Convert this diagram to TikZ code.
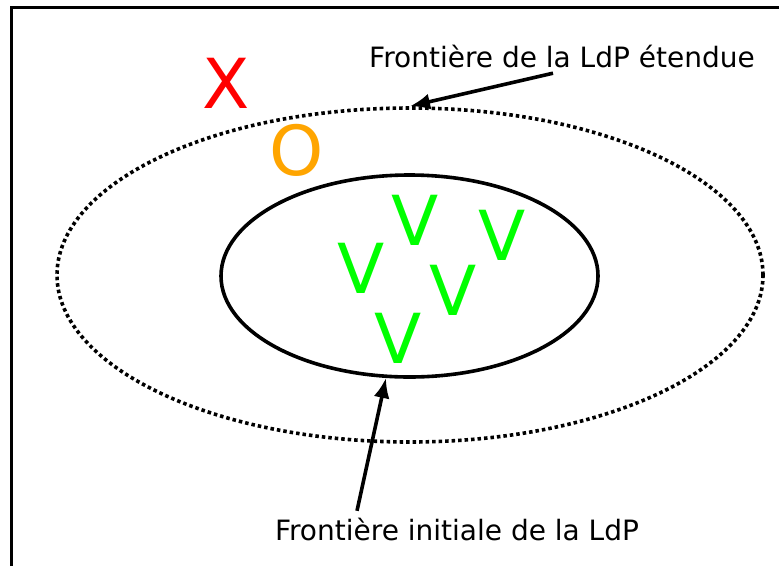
\documentclass[tikz,border=0pt]{standalone}
\usepackage{fontspec}
\setmainfont{DejaVu Sans}
\usetikzlibrary{arrows.meta,shapes.geometric}
\definecolor{vert}{RGB}{0,255,0}
\definecolor{orange}{RGB}{255,165,0}
\definecolor{rouge}{RGB}{255,0,0}

\begin{document}
\begin{tikzpicture}[x=1pt,y=-1pt,line width=3.6pt,
  lettre/.style={inner sep=0pt,font=\fontsize{69}{80}\selectfont},
  legende/.style={inner sep=0pt,anchor=base,font=\fontsize{28}{32}\selectfont},
  fleche/.style={-{Latex[length=20pt,width=16pt]}}]
\useasboundingbox (0,0) rectangle (779,566);
\draw (11.5,566) -- (11.5,7.5) -- (779,7.5);

\node (ext) [ellipse,draw,dash pattern=on 3.5pt off 3pt,inner sep=0pt,
  minimum width=706pt,minimum height=334pt] at (410,275) {};
\node (int) [ellipse,draw,inner sep=0pt,
  minimum width=377pt,minimum height=202pt] at (409.5,276) {};

\node (x) [lettre,text=rouge] at (226,83) {X};
\node (o) [lettre,text=orange] at (297,150) {O};
\node (v1) [lettre,text=vert] at (415,220) {V};
\node (v2) [lettre,text=vert] at (502,235) {V};
\node (v3) [lettre,text=vert] at (361,268) {V};
\node (v4) [lettre,text=vert] at (453,290) {V};
\node (v5) [lettre,text=vert] at (398,338) {V};

\node (etendue) [legende] at (562,67) {Frontière de la LdP étendue};
\node (initiale) [legende] at (457,540) {Frontière initiale de la LdP};

\draw[fleche] ([xshift=-9pt,yshift=-4pt]etendue.south) to (ext.north);
\draw[fleche] ([xshift=-100pt,yshift=5pt]initiale.north) to (int.257);

\end{tikzpicture}
\end{document}
